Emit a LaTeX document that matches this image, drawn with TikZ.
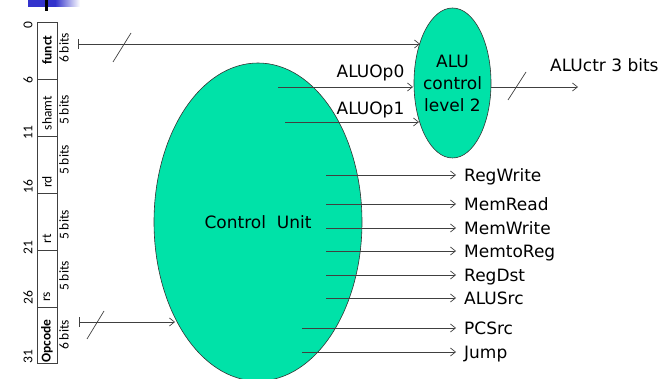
\documentclass[tikz,border=0pt]{standalone}
\usepackage{fontspec}
\setmainfont{DejaVu Sans}
\newfontfamily\tabfont{Carlito}
\usetikzlibrary{arrows.meta,shapes.geometric}
\definecolor{cugreen}{RGB}{0,226,168}
\definecolor{slideblue}{RGB}{51,51,204}
\begin{document}
\begin{tikzpicture}[x=1pt,y=-1pt,
  line/.style={draw=black!75, line width=0.7pt},
  arr/.style={line, -{Straight Barb[length=5pt,width=8pt]}},
  barr/.style={line, {Bar[width=10pt]}-{Straight Barb[length=5pt,width=8pt]}},
  big/.style={font=\fontsize{17}{22}\selectfont, inner sep=0pt},
  lbl/.style={big, anchor=west, inner xsep=8pt, inner ysep=0pt, text height=12.4pt, text depth=0pt},
  tab/.style={font=\tabfont\fontsize{13.5}{15}\selectfont, rotate=90, inner sep=0pt},
  blob/.style={ellipse, draw=black!80, line width=0.6pt, fill=cugreen, inner sep=0pt}]
\useasboundingbox (0,0) rectangle (662,379);

% slide decoration
\fill[slideblue] (28,0) rectangle (55,7);
\shade[left color=slideblue, right color=white] (55,0) rectangle (80,7);
\fill[black] (45,0) rectangle (47.5,11);

% instruction field table
\draw[black!75, line width=0.8pt] (37,22) rectangle (57,363);
\foreach \yy in {79,136,193,250,307} \draw[black!75, line width=0.8pt] (37,\yy) -- (57,\yy);
\node[tab] (ffunct) at (47,50) {\bfseries funct};
\node[tab] (fshamt) at (47,113) {shamt};
\node[tab] (frd) at (47,182) {rd};
\node[tab] (frt) at (47,239) {rt};
\node[tab] (frs) at (47,297) {rs};
\node[tab] (fop) at (47,341) {\bfseries Opcode};
\node[tab] (bfunct) at (64,48) {6 bits};
\node[tab] (bshamt) at (64,110) {5 bits};
\node[tab] (brd) at (64,160) {5 bits};
\node[tab] (brt) at (64,225) {5 bits};
\node[tab] (brs) at (64,276) {5 bits};
\node[tab] (bop) at (64,335) {6 bits};
\node[tab] (n0) at (28,25) {0};
\node[tab] (n6) at (28,80) {6};
\node[tab] (n11) at (28,133) {11};
\node[tab] (n16) at (28,187) {16};
\node[tab] (n21) at (28,248) {21};
\node[tab] (n26) at (28,298) {26};
\node[tab] (n31) at (28,357) {31};

% ellipses
\node[blob, big, minimum width=208pt, minimum height=318pt] (cu) at (258,222) {Control\ \ Unit};
\node[blob, minimum width=77pt, minimum height=150pt] (alu) at (452.5,83) {};
\node[big, align=center] (alutxt) at (alu.center) {ALU\\control\\level 2};

% funct -> ALU control
\coordinate (fs) at (78,44);
\coordinate (fe) at (420,44);
\draw[barr] (fs) -- (fe);
\draw[line] (113,62) -- (131,33);

% opcode -> control unit
\coordinate (os) at (79,322);
\coordinate (oe) at (175,322);
\draw[barr] (os) -- (oe);
\draw[line] (87,339) -- (104,311);

% ALUOp signals
\coordinate (a0) at (413,87);
\coordinate (a1) at (419,122);
\draw[arr] ([xshift=20pt]cu.center |- a0) -- (a0);
\draw[arr] ([xshift=27pt]cu.center |- a1) -- (a1);
\node[big] (op0) at (370.5,73) {ALUOp0};
\node[big] (op1) at (370.5,110) {ALUOp1};

% ALU control output
\coordinate (ao) at (578,87);
\draw[arr] (alu.east |- ao) -- (ao);
\draw[line] (508,100) -- (526,72);
\node[big, anchor=west] (aluctr) at (550,65) {ALUctr 3 bits};

% control outputs
\coordinate (cuA) at ([xshift=68pt]cu.center);
\coordinate (cuB) at ([xshift=44pt]cu.center);
\node[lbl] (rw) at (456,175) {RegWrite};
\node[lbl] (mr) at (456,204) {MemRead};
\node[lbl] (mw) at (456,228) {MemWrite};
\node[lbl] (mtr) at (456,251) {MemtoReg};
\node[lbl] (rdst) at (456,275) {RegDst};
\node[lbl] (asrc) at (456,298) {ALUSrc};
\node[lbl] (pcs) at (456,328) {PCSrc};
\node[lbl] (jmp) at (456,352) {Jump};
\foreach \n in {rw,mr,mw,mtr,rdst,asrc} \draw[arr] (cuA |- \n.west) -- (\n.west);
\foreach \n in {pcs,jmp} \draw[arr] (cuB |- \n.west) -- (\n.west);
\end{tikzpicture}
\end{document}
